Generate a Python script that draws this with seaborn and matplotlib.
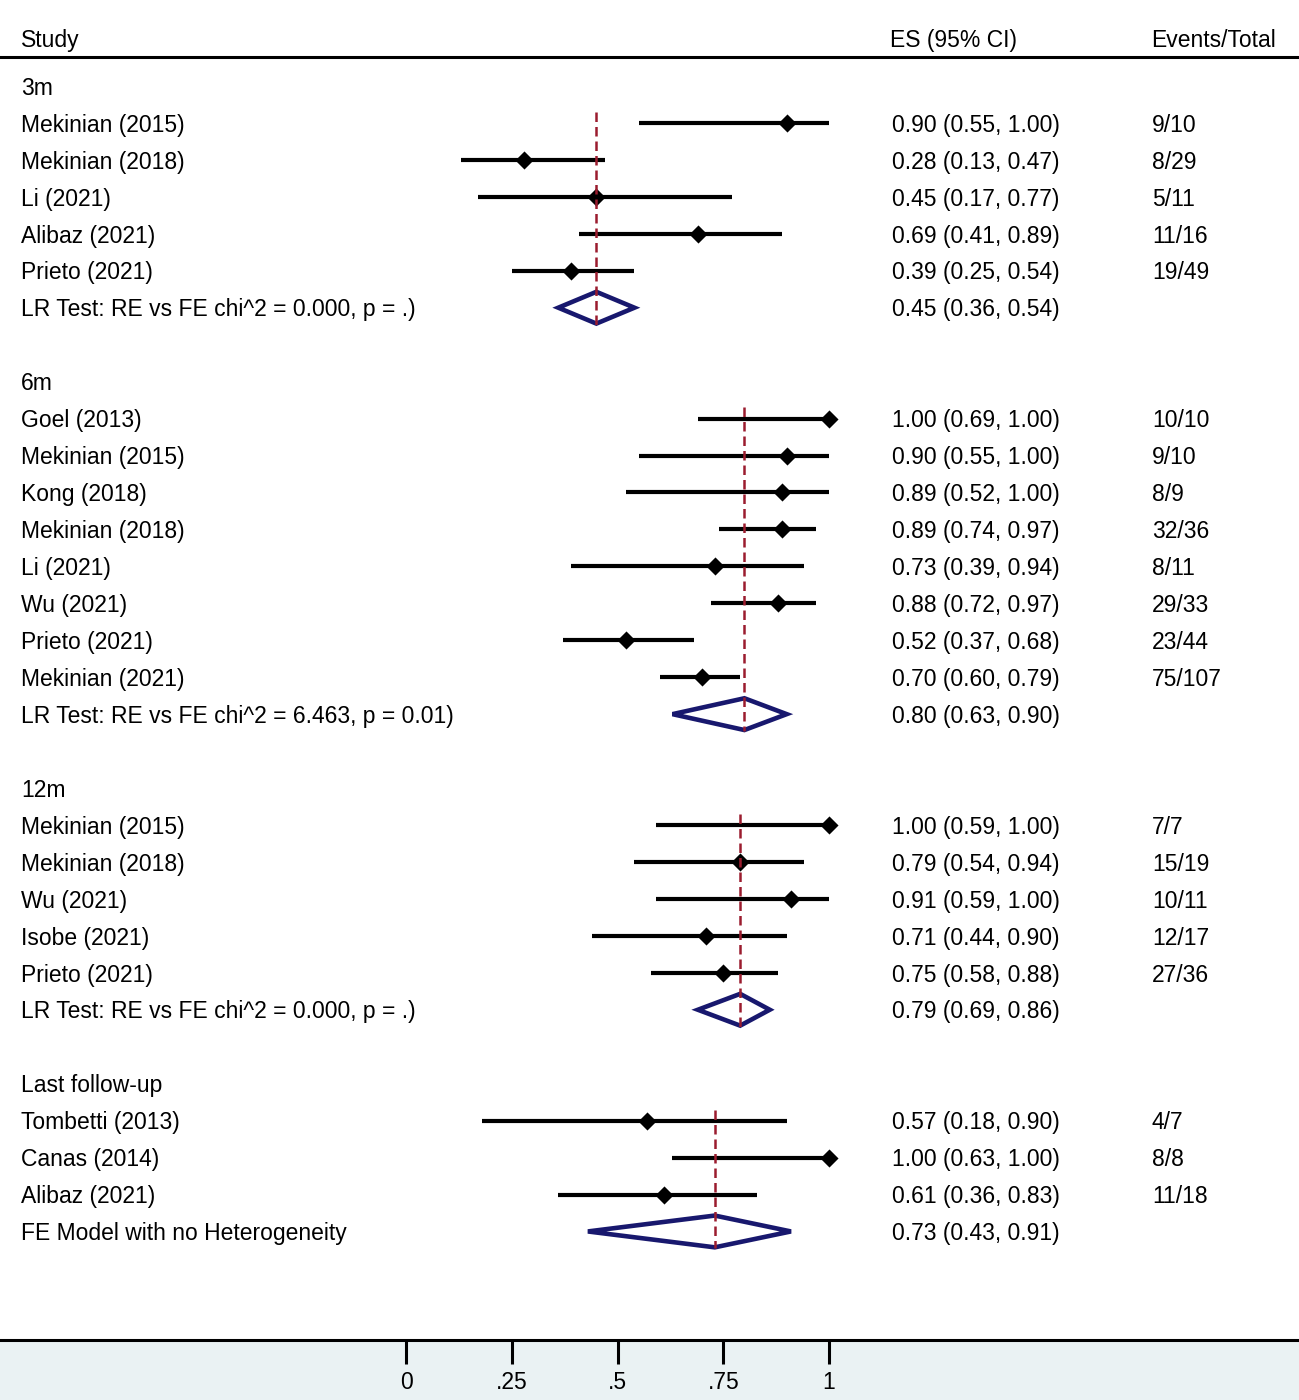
import numpy as np
import pandas as pd
import seaborn as sns
import matplotlib.pyplot as plt
from matplotlib.patches import Polygon, Rectangle
from matplotlib.transforms import blended_transform_factory

# --- data ---
group_names = ["3m", "6m", "12m", "Last follow-up"]

studies_3m = ["Mekinian (2015)", "Mekinian (2018)", "Li (2021)", "Alibaz (2021)", "Prieto (2021)"]
es_3m = [0.90, 0.28, 0.45, 0.69, 0.39]
lo_3m = [0.55, 0.13, 0.17, 0.41, 0.25]
hi_3m = [1.00, 0.47, 0.77, 0.89, 0.54]
events_3m = ["9/10", "8/29", "5/11", "11/16", "19/49"]

studies_6m = ["Goel (2013)", "Mekinian (2015)", "Kong (2018)", "Mekinian (2018)",
              "Li (2021)", "Wu (2021)", "Prieto (2021)", "Mekinian (2021)"]
es_6m = [1.00, 0.90, 0.89, 0.89, 0.73, 0.88, 0.52, 0.70]
lo_6m = [0.69, 0.55, 0.52, 0.74, 0.39, 0.72, 0.37, 0.60]
hi_6m = [1.00, 1.00, 1.00, 0.97, 0.94, 0.97, 0.68, 0.79]
events_6m = ["10/10", "9/10", "8/9", "32/36", "8/11", "29/33", "23/44", "75/107"]

studies_12m = ["Mekinian (2015)", "Mekinian (2018)", "Wu (2021)", "Isobe (2021)", "Prieto (2021)"]
es_12m = [1.00, 0.79, 0.91, 0.71, 0.75]
lo_12m = [0.59, 0.54, 0.59, 0.44, 0.58]
hi_12m = [1.00, 0.94, 1.00, 0.90, 0.88]
events_12m = ["7/7", "15/19", "10/11", "12/17", "27/36"]

studies_last = ["Tombetti (2013)", "Canas (2014)", "Alibaz (2021)"]
es_last = [0.57, 1.00, 0.61]
lo_last = [0.18, 0.63, 0.36]
hi_last = [0.90, 1.00, 0.83]
events_last = ["4/7", "8/8", "11/18"]

pooled_labels = ["LR Test: RE vs FE chi^2 = 0.000, p = .)",
                 "LR Test: RE vs FE chi^2 = 6.463, p = 0.01)",
                 "LR Test: RE vs FE chi^2 = 0.000, p = .)",
                 "FE Model with no Heterogeneity"]
pooled_es = [0.45, 0.80, 0.79, 0.73]
pooled_lo = [0.36, 0.63, 0.69, 0.43]
pooled_hi = [0.54, 0.90, 0.86, 0.91]

# --- build one table with a row index per line of the plot ---
blocks = [
    (studies_3m, es_3m, lo_3m, hi_3m, events_3m),
    (studies_6m, es_6m, lo_6m, hi_6m, events_6m),
    (studies_12m, es_12m, lo_12m, hi_12m, events_12m),
    (studies_last, es_last, lo_last, hi_last, events_last),
]
rows = []
k = 0
for g, (names, es, lo, hi, ev) in enumerate(blocks):
    rows.append(dict(row=k, kind="header", group=g, label=group_names[g]))
    k += 1
    for n, e, l, h, t in zip(names, es, lo, hi, ev):
        rows.append(dict(row=k, kind="study", group=g, label=n, es=e, lo=l, hi=h, events=t))
        k += 1
    rows.append(dict(row=k, kind="pooled", group=g, label=pooled_labels[g],
                     es=pooled_es[g], lo=pooled_lo[g], hi=pooled_hi[g], events=""))
    k += 2
df = pd.DataFrame(rows)
studies = df[df.kind == "study"]
pooled = df[df.kind == "pooled"]

sns.set_theme(style="white")
plt.rcParams["font.family"] = ["Liberation Sans", "DejaVu Sans"]
plt.rcParams["text.color"] = "black"
plt.rcParams["xtick.color"] = "black"
plt.rcParams["xtick.labelcolor"] = "black"
fs = 16.5

W, H = 1299, 1400
fig = plt.figure(figsize=(W / 100, H / 100), dpi=100, facecolor="white")
fig.patches.append(Rectangle((0, 0), 1, 60 / H, transform=fig.transFigure,
                             facecolor="#EAF2F3", edgecolor="none", zorder=-5))
ax = fig.add_axes([0, 60 / H, 1, (1340 - 57) / H])
ax.set_zorder(2)
ax.set_facecolor("white")

navy = "#18186E"
red = "#9B1C2E"

# CI lines and point estimates
ax.hlines(studies.row, studies.lo, studies.hi, color="black", lw=3.0, zorder=2)
sns.scatterplot(data=studies, x="es", y="row", marker="D", s=85, color="black",
                edgecolor="black", linewidth=0, ax=ax, zorder=3, legend=False)

# pooled diamonds and dashed reference lines
dh = 0.43
for _, r in pooled.iterrows():
    ax.add_patch(Polygon([(r.lo, r.row), (r.es, r.row - dh), (r.hi, r.row), (r.es, r.row + dh)],
                         closed=True, fill=False, edgecolor=navy, lw=3.3, zorder=4))
    first = studies[studies.group == r.group].row.min()
    ax.vlines(r.es, first - 0.3, r.row + dh + 0.03, color=red, lw=1.8,
              linestyles=(0, (3.8, 2.0)), zorder=5)

# text columns
tr = blended_transform_factory(ax.transAxes, ax.transData)
x_study, x_es, x_ev = 21 / W, 892 / W, 1152 / W
dy = 0.06
for _, r in df.iterrows():
    ax.text(x_study, r.row + dy, r.label, transform=tr, fontsize=fs, va="center", ha="left")
    if r.kind != "header":
        ax.text(x_es, r.row + dy, f"{r.es:.2f} ({r.lo:.2f}, {r.hi:.2f})", transform=tr,
                fontsize=fs, va="center", ha="left")
        ax.text(x_ev, r.row + dy, r.events, transform=tr, fontsize=fs, va="center", ha="left")

hdr = -1.3 + dy
ax.text(x_study, hdr, "Study", transform=tr, fontsize=fs, va="center", ha="left", clip_on=False)
ax.text(890 / W, hdr, "ES (95% CI)", transform=tr, fontsize=fs, va="center", ha="left", clip_on=False)
ax.text(1151 / W, hdr, "Events/Total", transform=tr, fontsize=fs, va="center", ha="left", clip_on=False)

# axes
ax.set_xlim(-406 / 423, (W - 406) / 423)
ax.set_ylim((1340 - 86) / 36.95, (57 - 86) / 36.95)
ax.set_xticks([0, 0.25, 0.5, 0.75, 1])
ax.set_xticklabels(["0", ".25", ".5", ".75", "1"], fontsize=fs, color="black")
ax.set_yticks([])
ax.set_xlabel("")
ax.set_ylabel("")
ax.tick_params(axis="x", direction="out", length=17, width=2.2, color="black", pad=5, bottom=True)
for side in ["left", "right"]:
    ax.spines[side].set_visible(False)
for side in ["top", "bottom"]:
    ax.spines[side].set_visible(True)
    ax.spines[side].set_color("black")
    ax.spines[side].set_linewidth(2.2)

fig.savefig("out.png", dpi=100, facecolor=fig.get_facecolor())
